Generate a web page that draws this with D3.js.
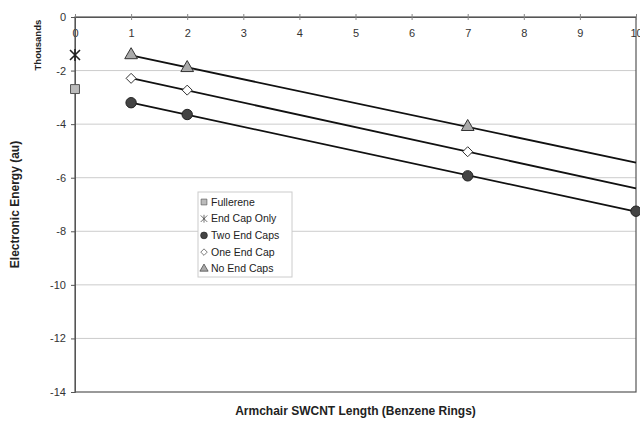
<!DOCTYPE html>
<html lang="en">
<head>
<meta charset="UTF-8">
<script src="https://d3js.org/d3.v7.min.js"></script>
<title>SWCNT energy</title>
<style>
  body { margin: 0; background: #fff; overflow: hidden; }
  svg { display: block; }
  text { font-family: "Liberation Sans", Arial, sans-serif; }
  .tick text { fill: #333; font-size: 11px; }
  .grid line { stroke: #ccc; }
</style>
</head>
<body>
<div id="chart"></div>
<script>
// Data (energies in thousands of au)
const xTicks = [0, 1, 2, 3, 4, 5, 6, 7, 8, 9, 10];
const yTicks = [0, -2, -4, -6, -8, -10, -12, -14];

const fullerene = [{ x: 0, y: -2.69 }];
const endCapOnly = [{ x: 0, y: -1.42 }];
const twoEndCaps = [{ x: 1, y: -3.20 }, { x: 2, y: -3.64 }, { x: 7, y: -5.93 }, { x: 10, y: -7.25 }];
const oneEndCap = [{ x: 1, y: -2.29 }, { x: 2, y: -2.73 }, { x: 7, y: -5.03 }];
const noEndCaps = [{ x: 1, y: -1.42 }, { x: 2, y: -1.90 }, { x: 7, y: -4.10 }];

const width = 640, height = 421;
const margin = { top: 17, right: 4, bottom: 29, left: 75 };

const svg = d3.select("#chart").append("svg")
  .attr("width", width)
  .attr("height", height);

const x = d3.scaleLinear().domain([0, 10]).range([margin.left, width - margin.right]);
const y = d3.scaleLinear().domain([-14, 0]).range([height - margin.bottom, margin.top]);

// gridlines
svg.append("g").attr("class", "grid")
  .selectAll("line")
  .data(yTicks.filter(d => d !== 0 && d !== -14))
  .join("line")
  .attr("x1", x(0)).attr("x2", x(10))
  .attr("y1", d => y(d)).attr("y2", d => y(d));

// plot border
svg.append("rect")
  .attr("x", x(0)).attr("y", y(0))
  .attr("width", x(10) - x(0)).attr("height", y(-14) - y(0))
  .attr("fill", "none").attr("stroke", "#555").attr("stroke-width", 1.2);

// axes (plain hyphen minus like the original)
const fmt = d => String(d);
const xAxis = svg.append("g")
  .attr("transform", `translate(0,${y(0)})`)
  .call(d3.axisBottom(x).tickValues(xTicks).tickFormat(fmt).tickSize(3).tickPadding(9));
xAxis.select(".domain").attr("stroke", "#555");
xAxis.selectAll(".tick line").attr("stroke", "#888").attr("y1", -3);

const yAxis = svg.append("g")
  .attr("transform", `translate(${x(0)},0)`)
  .call(d3.axisLeft(y).tickValues(yTicks).tickFormat(fmt).tickSize(4).tickPadding(5));
yAxis.select(".domain").attr("stroke", "#555");
yAxis.selectAll(".tick line").attr("stroke", "#555");

// linear trend lines
function fit(data) {
  const mx = d3.mean(data, d => d.x), my = d3.mean(data, d => d.y);
  const b = d3.sum(data, d => (d.x - mx) * (d.y - my)) / d3.sum(data, d => (d.x - mx) ** 2);
  return t => my + b * (t - mx);
}
[twoEndCaps, oneEndCap, noEndCaps].forEach(s => {
  const f = fit(s);
  svg.append("line")
    .attr("x1", x(1)).attr("y1", y(f(1)))
    .attr("x2", x(10)).attr("y2", y(f(10)))
    .attr("stroke", "#111").attr("stroke-width", 1.8);
});

// markers
const asterisk = "M-5,-5L5,5M-5,5L5,-5M0,-6L0,6";
const diamond = "M0,-5L5,0L0,5L-5,0Z";
const series = [
  { name: "Fullerene", data: fullerene, d: d3.symbol(d3.symbolSquare, 80)(), fill: "#bbb", stroke: "#555" },
  { name: "End Cap Only", data: endCapOnly, d: asterisk, fill: "none", stroke: "#222" },
  { name: "Two End Caps", data: twoEndCaps, d: d3.symbol(d3.symbolCircle, 85)(), fill: "#444", stroke: "#222" },
  { name: "One End Cap", data: oneEndCap, d: diamond, fill: "#fff", stroke: "#333" },
  { name: "No End Caps", data: noEndCaps, d: d3.symbol(d3.symbolTriangle, 70)(), fill: "#aaa", stroke: "#333" }
];

series.forEach(s => {
  svg.append("g").selectAll("path")
    .data(s.data)
    .join("path")
    .attr("transform", d => `translate(${x(d.x)},${y(d.y)})`)
    .attr("d", s.d)
    .attr("fill", s.fill)
    .attr("stroke", s.stroke)
    .attr("stroke-width", s.name === "End Cap Only" ? 1.6 : 1);
});

// legend
const legend = svg.append("g").attr("transform", "translate(198,192)");
legend.append("rect")
  .attr("width", 94).attr("height", 85)
  .attr("fill", "#fff").attr("stroke", "#ccc");
const items = legend.selectAll("g.item")
  .data(series)
  .join("g")
  .attr("class", "item")
  .attr("transform", (d, i) => `translate(6,${10 + i * 16.7})`);
items.append("path")
  .attr("d", d => d.d)
  .attr("transform", "scale(0.65)")
  .attr("fill", d => d.fill)
  .attr("stroke", d => d.stroke);
items.append("text")
  .attr("x", 7).attr("dy", "0.35em")
  .attr("font-size", 10.5).attr("fill", "#222")
  .text(d => d.name);

// titles
svg.append("text")
  .attr("transform", `translate(41,${y(-1.05)}) rotate(-90)`)
  .attr("text-anchor", "middle")
  .attr("font-size", 9.5).attr("font-weight", "bold").attr("fill", "#222")
  .text("Thousands");

svg.append("text")
  .attr("transform", `translate(19,${(y(0) + y(-14)) / 2}) rotate(-90)`)
  .attr("text-anchor", "middle")
  .attr("font-size", 12).attr("font-weight", "bold").attr("fill", "#222")
  .text("Electronic Energy (au)");

svg.append("text")
  .attr("x", (x(0) + x(10)) / 2).attr("y", 415)
  .attr("text-anchor", "middle")
  .attr("font-size", 12).attr("font-weight", "bold").attr("fill", "#222")
  .text("Armchair SWCNT Length (Benzene Rings)");
</script>
</body>
</html>
